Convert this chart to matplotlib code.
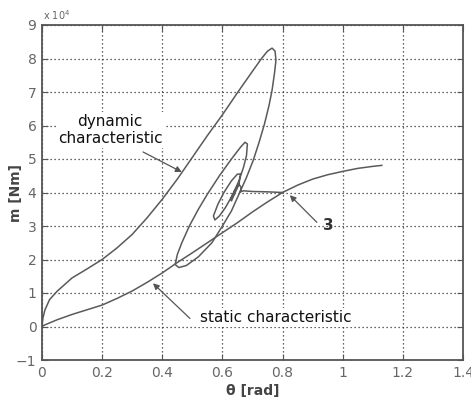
import numpy as np
import matplotlib
matplotlib.use('Agg')
import matplotlib.pyplot as plt

##### DATEN #####
# Moment in Einheiten von 1e4 Nm, Winkel in rad

# statische Kennlinie
theta_stat = [0.000, 0.010, 0.050, 0.100, 0.150, 0.200, 0.250, 0.300, 0.350,
              0.400, 0.450, 0.500, 0.550, 0.600, 0.650, 0.700, 0.750, 0.800,
              0.850, 0.900, 0.950, 1.000, 1.050, 1.100, 1.130]
m_stat = [0.00, 0.05, 0.20, 0.36, 0.50, 0.64, 0.84, 1.06, 1.32,
          1.60, 1.91, 2.20, 2.50, 2.80, 3.10, 3.42, 3.72, 4.00,
          4.22, 4.40, 4.53, 4.63, 4.72, 4.78, 4.81]

# dynamische Kennlinie (Hystereseschleifen bis zum Endpunkt)
theta_dyn = [0.000, 0.003, 0.010, 0.025, 0.050, 0.100, 0.150, 0.200, 0.250,
             0.300, 0.350, 0.400, 0.450, 0.500, 0.550, 0.600, 0.650, 0.700,
             0.730, 0.750, 0.765, 0.775, 0.778, 0.773, 0.765, 0.755, 0.740,
             0.722, 0.702, 0.680, 0.655, 0.630, 0.600, 0.565, 0.520, 0.480,
             0.455, 0.443, 0.450, 0.465, 0.490, 0.520, 0.550, 0.590, 0.630,
             0.660, 0.675, 0.683, 0.680, 0.670, 0.655, 0.635, 0.610, 0.590,
             0.575, 0.570, 0.585, 0.605, 0.630, 0.650, 0.660, 0.655, 0.640,
             0.630, 0.628, 0.640, 0.655, 0.662, 0.660, 0.670, 0.700, 0.750,
             0.800]
m_dyn = [0.00, 0.25, 0.50, 0.80, 1.05, 1.45, 1.72, 2.00, 2.35,
         2.75, 3.25, 3.80, 4.40, 5.05, 5.70, 6.32, 6.98, 7.62,
         8.00, 8.22, 8.31, 8.22, 7.95, 7.55, 7.05, 6.60, 6.05,
         5.50, 4.95, 4.45, 3.95, 3.45, 3.00, 2.50, 2.08, 1.82,
         1.76, 1.85, 2.15, 2.50, 3.00, 3.50, 3.95, 4.50, 5.00,
         5.35, 5.50, 5.45, 5.10, 4.75, 4.35, 3.95, 3.55, 3.30,
         3.18, 3.30, 3.65, 4.00, 4.35, 4.55, 4.55, 4.25, 3.95,
         3.75, 3.80, 4.05, 4.25, 4.15, 4.02, 4.05, 4.03, 4.02,
         4.00]

x_ticks = [0, 0.2, 0.4, 0.6, 0.8, 1.0, 1.2, 1.4]
x_labels = ['0', '0.2', '0.4', '0.6', '0.8', '1', '1.2', '1.4']
y_ticks = [-1, 0, 1, 2, 3, 4, 5, 6, 7, 8, 9]

##### PLOTTEN #####
fig = plt.figure(figsize=(4.71, 4.03), dpi=100)
ax = fig.add_axes([42/471, 1-360/403, 421/471, 335/403])

kurve = '#5a5a5a'
ax.plot(theta_stat, m_stat, color=kurve, lw=1.1)
ax.plot(theta_dyn, m_dyn, color=kurve, lw=1.1)

ax.set_xlim(0, 1.4)
ax.set_ylim(-1, 9)
ax.set_xticks(x_ticks)
ax.set_xticklabels(x_labels)
ax.set_yticks(y_ticks)
ax.grid(True, ls=(0, (1, 2.2)), color='#333333', lw=0.9)
ax.tick_params(direction='in', top=True, right=True, length=4,
               labelsize=10, labelcolor='#666666', color='#555555', pad=4)
for s in ax.spines.values():
    s.set_color('#555555')
    s.set_linewidth(1.3)

ax.set_xlabel('θ [rad]', fontsize=10, fontweight='bold', color='#444444', labelpad=3)
ax.set_ylabel('m [Nm]', fontsize=10, fontweight='bold', color='#444444')
ax.yaxis.set_label_coords(-0.046, 0.5)
ax.text(0.003, 1.008, r'x 10$^4$', transform=ax.transAxes, fontsize=7,
        color='#666666', va='bottom', ha='left')

pfeil = dict(arrowstyle='-|>', color='#555555', lw=0.9, mutation_scale=9,
             shrinkA=0, shrinkB=0)
box = dict(facecolor='white', edgecolor='none', pad=1.5)

ax.text(0.226, 5.87, 'dynamic\ncharacteristic', ha='center', va='center',
        fontsize=11, color='#111111', linespacing=1.15, bbox=box)
ax.annotate('', xy=(0.465, 4.61), xytext=(0.336, 5.21), arrowprops=pfeil)

ax.text(0.525, 0.27, 'static characteristic', ha='left', va='center',
        fontsize=11, color='#111111', bbox=box)
ax.annotate('', xy=(0.369, 1.29), xytext=(0.492, 0.24), arrowprops=pfeil)

ax.annotate('', xy=(0.824, 3.92), xytext=(0.914, 3.11), arrowprops=pfeil)
ax.text(0.953, 3.02, '3', ha='center', va='center', fontsize=11,
        fontweight='bold', color='#333333')

plt.savefig('out.png', dpi=100)
